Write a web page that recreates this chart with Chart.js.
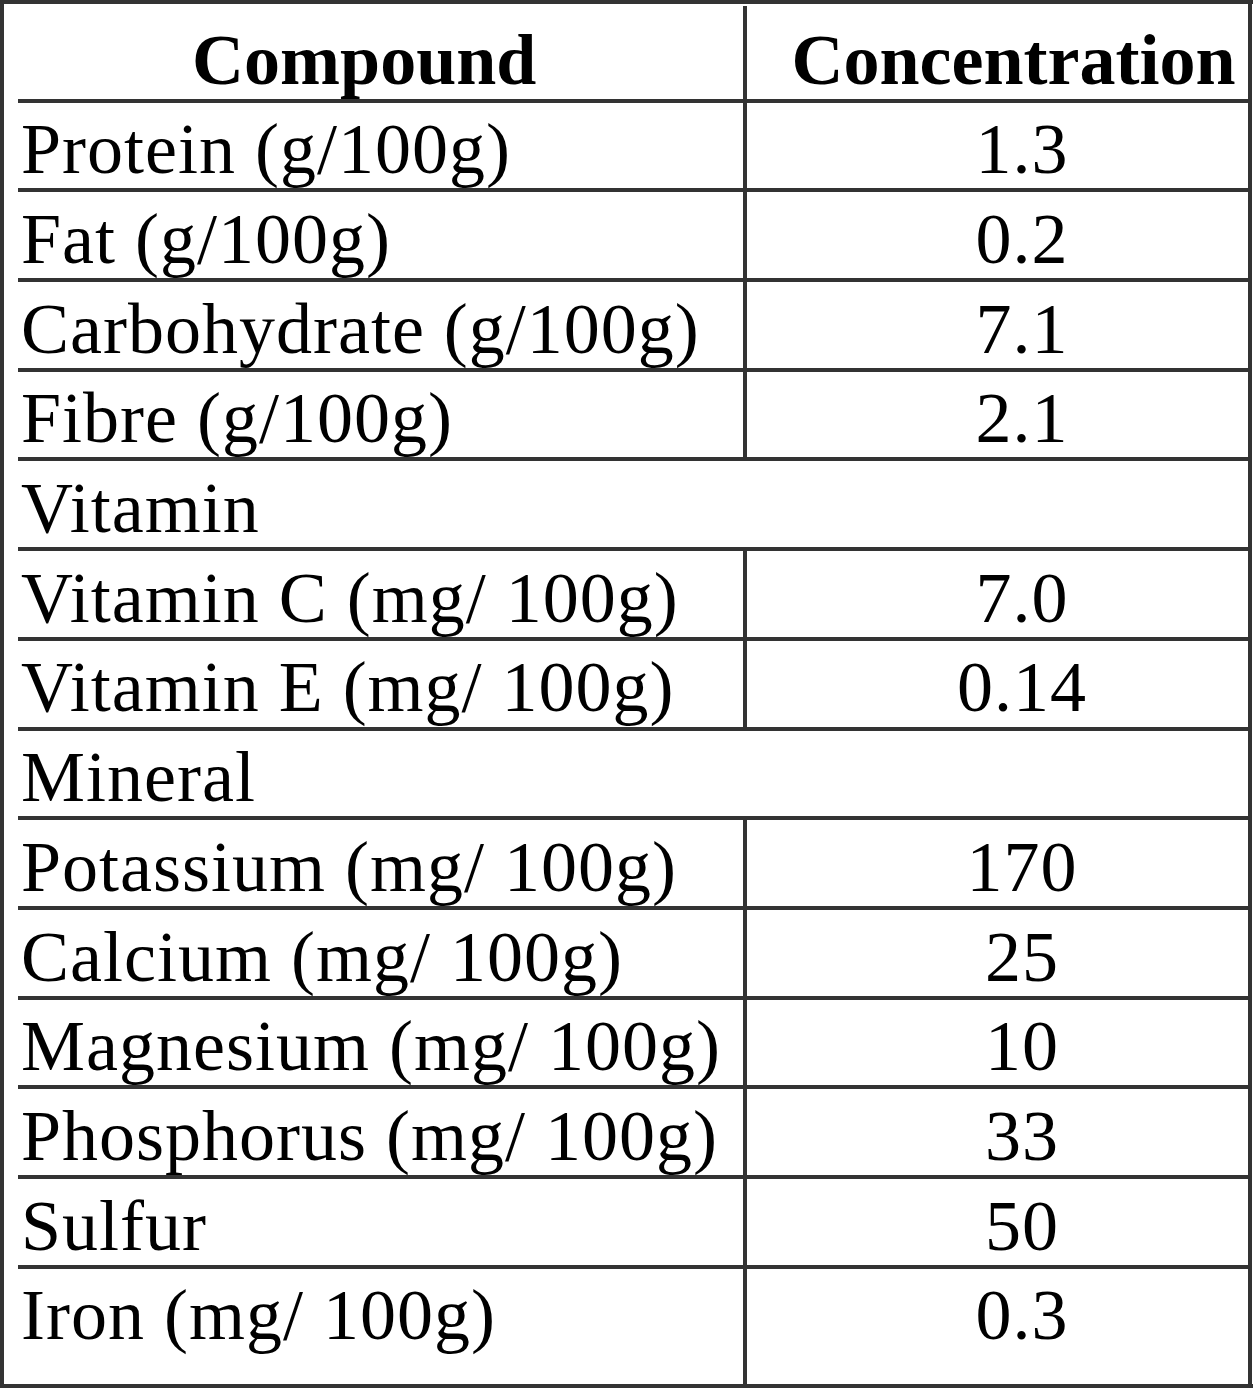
<!DOCTYPE html>
<html>
<head>
<meta charset="utf-8">
<script src="https://cdn.jsdelivr.net/npm/chart.js@4/dist/chart.umd.min.js"></script>
<style>
  html, body { margin: 0; padding: 0; background: #ffffff; }
  #wrap { width: 1253px; height: 1388px; }
</style>
</head>
<body>
<div id="wrap"><canvas id="c" width="1253" height="1388"></canvas></div>
<script>
// ---- data ----
const headers = ['Compound', 'Concentration'];
const compounds = [
  'Protein (g/100g)',
  'Fat (g/100g)',
  'Carbohydrate (g/100g)',
  'Fibre (g/100g)',
  'Vitamin',
  'Vitamin C (mg/ 100g)',
  'Vitamin E (mg/ 100g)',
  'Mineral',
  'Potassium (mg/ 100g)',
  'Calcium (mg/ 100g)',
  'Magnesium (mg/ 100g)',
  'Phosphorus (mg/ 100g)',
  'Sulfur',
  'Iron (mg/ 100g)'
];
const concentrations = ['1.3', '0.2', '7.1', '2.1', null, '7.0', '0.14', null, '170', '25', '10', '33', '50', '0.3'];

// ---- layout / style (not data) ----
const LINE = '#333333';
const LW = 4;
const FONT = '"Liberation Serif", "Times New Roman", serif';
const FS = 72;
const COL_SPLIT = 0.59;      // fraction of table width where the column divider sits
const VAL_CENTER = 0.815;    // centre of value text
const HDR1_CENTER = 0.281;
const HDR2_CENTER = 0.808;

const snap = v => Math.round(v);

const tablePlugin = {
  id: 'tablePlugin',
  afterDraw(chart) {
    const ctx = chart.ctx;
    const xs = chart.scales.x, ys = chart.scales.y;
    const W = chart.width, H = chart.height;
    const left = snap(xs.getPixelForValue(0)), right = snap(xs.getPixelForValue(1));
    const xDiv = snap(xs.getPixelForValue(COL_SPLIT));
    const top = snap(ys.getPixelForValue(ys.min)), bottom = snap(ys.getPixelForValue(ys.max));
    ctx.save();
    ctx.strokeStyle = LINE;
    ctx.lineWidth = LW;
    ctx.lineCap = 'butt';
    // outer frame
    ctx.beginPath();
    ctx.moveTo(0, 2); ctx.lineTo(W, 2);
    ctx.moveTo(2, 0); ctx.lineTo(2, H);
    ctx.moveTo(0, H - 2); ctx.lineTo(W, H - 2);
    ctx.moveTo(right, 0); ctx.lineTo(right, H);
    ctx.stroke();
    // horizontal row lines (row boundaries at integer values)
    ctx.beginPath();
    for (let i = 0; i < compounds.length; i++) {
      const y = snap(ys.getPixelForValue(i));
      ctx.moveTo(left, y); ctx.lineTo(right + 1, y);
    }
    ctx.stroke();
    // column divider: header + rows that have a value
    ctx.beginPath();
    ctx.moveTo(xDiv, top + 4); ctx.lineTo(xDiv, snap(ys.getPixelForValue(0)));
    compounds.forEach((c, i) => {
      if (concentrations[i] !== null) {
        ctx.moveTo(xDiv, snap(ys.getPixelForValue(i)));
        ctx.lineTo(xDiv, i === compounds.length - 1 ? bottom : snap(ys.getPixelForValue(i + 1)));
      }
    });
    ctx.stroke();

    // text
    ctx.fillStyle = '#000000';
    ctx.textBaseline = 'alphabetic';
    const baseOff = FS * 0.33 + 4;
    // header
    ctx.font = 'bold ' + FS + 'px ' + FONT;
    ctx.textAlign = 'center';
    const hy = ys.getPixelForValue(-0.5) + baseOff;
    ctx.fillText(headers[0], xs.getPixelForValue(HDR1_CENTER), hy);
    ctx.fillText(headers[1], xs.getPixelForValue(HDR2_CENTER), hy);
    // body
    ctx.font = FS + 'px ' + FONT;
    try { ctx.letterSpacing = '1px'; } catch (e) {}
    compounds.forEach((c, i) => {
      const y = ys.getPixelForValue(i + 0.5) + baseOff;
      ctx.textAlign = 'left';
      ctx.fillText(c, left + 3, y);
      if (concentrations[i] !== null) {
        ctx.textAlign = 'center';
        ctx.fillText(concentrations[i], xs.getPixelForValue(VAL_CENTER), y);
      }
    });
    ctx.restore();
  }
};

new Chart(document.getElementById('c'), {
  type: 'scatter',
  data: {
    datasets: [{
      data: compounds.map((c, i) => ({ x: 0, y: i + 0.5 })),
      pointRadius: 0,
      showLine: false
    }]
  },
  options: {
    responsive: false,
    devicePixelRatio: 1,
    animation: false,
    events: [],
    layout: { padding: { left: 18, right: 3, top: 2, bottom: 2 } },
    plugins: { legend: { display: false }, tooltip: { enabled: false } },
    scales: {
      x: { type: 'linear', min: 0, max: 1, display: false },
      y: { type: 'linear', min: -1.1, max: 14.33, reverse: true, display: false }
    }
  },
  plugins: [tablePlugin]
});
</script>
</body>
</html>
